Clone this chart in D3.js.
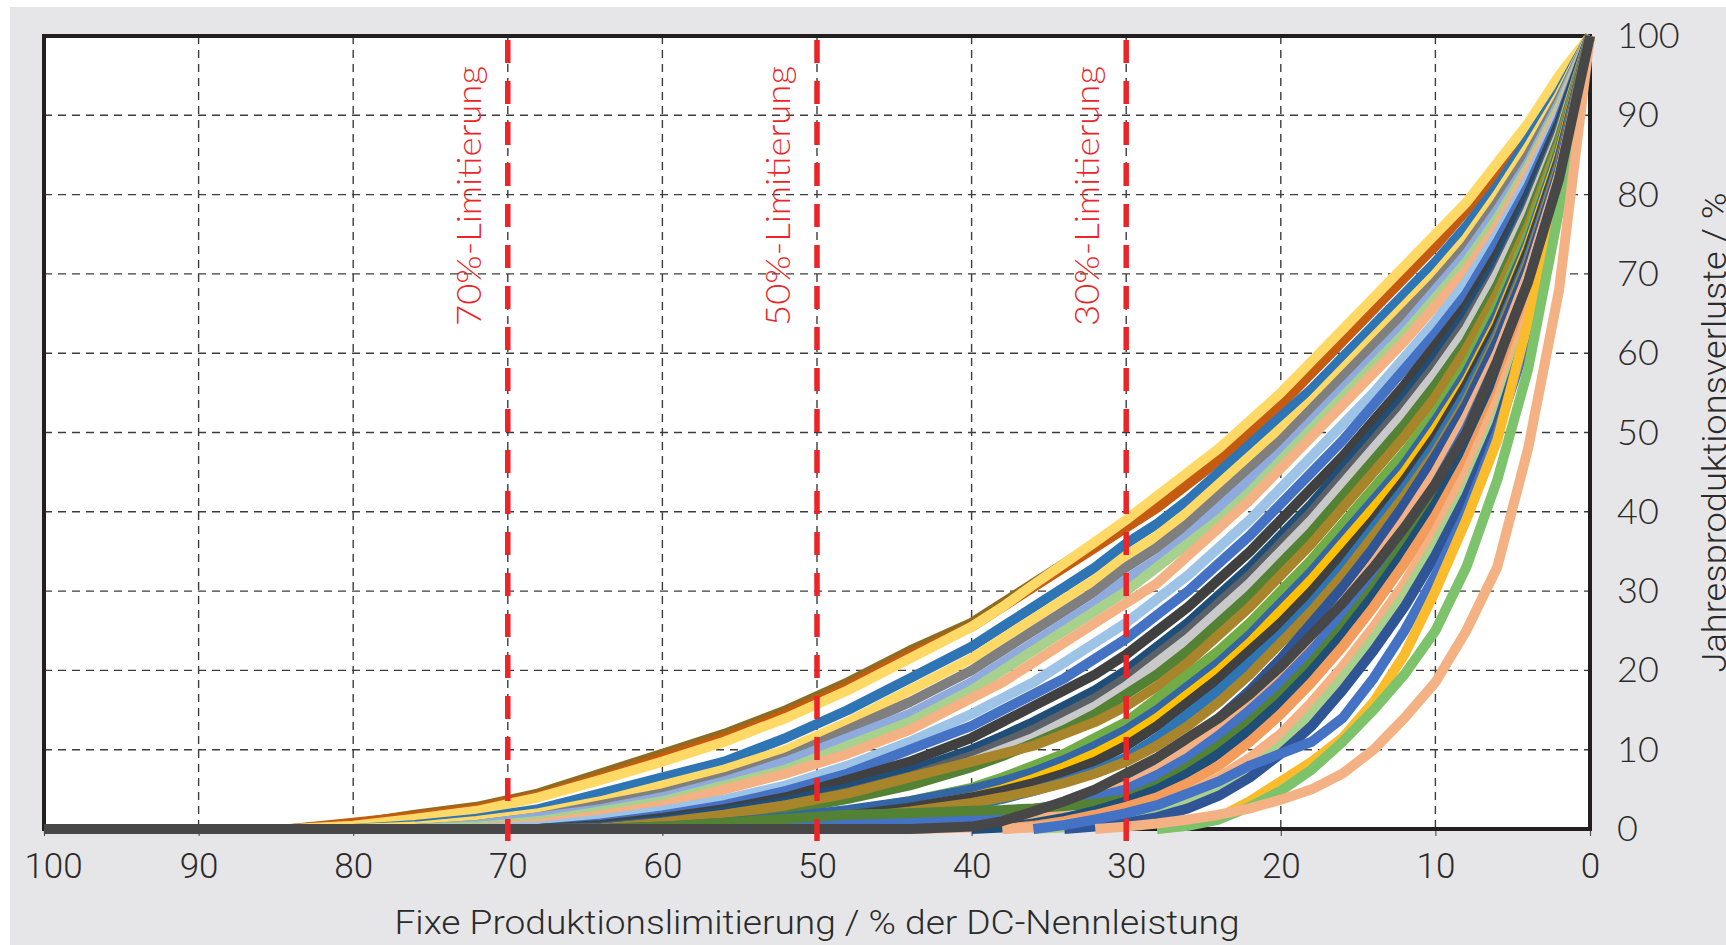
<!DOCTYPE html>
<html><head><meta charset="utf-8">
<script src="https://cdn.jsdelivr.net/npm/d3@7"></script>
<style>
html,body{margin:0;padding:0;background:#fff;}
svg{display:block;}
</style></head><body>
<svg id="chart" width="1726" height="945"></svg>
<script>
// ---- data ----
const xValues = [0,2,4,6,8,10,12,14,16,18,20,22,24,26,28,30,32,34,36,38,40,44,48,52,56,60,64,68,72,76,80,84,88,92,96,100];
const xTicks = [100,90,80,70,60,50,40,30,20,10,0];
const yTicks = [0,10,20,30,40,50,60,70,80,90,100];
const limitValues = [70,50,30];
const limitLabels = ["70%-Limitierung","50%-Limitierung","30%-Limitierung"];
const xTitle = "Fixe Produktionslimitierung / % der DC-Nennleistung";
const yTitle = "Jahresproduktionsverluste / %";

const s01 = [100,94,88.5,83,78.5,74,70,66,62,58,54,50.5,47,44,41,38.5,36,33.5,31,28.5,26,22.5,18.5,15,12,9.5,7,4.5,2.8,1.8,0.6,0];
const s02 = [100,93.5,88,82.5,78,73.5,69.5,65.5,61.5,57.5,53.5,50,46.5,43.5,40.5,38,35.5,33,30.5,28,25.5,22,18,14.5,11.5,9,6.5,4.2,2.6,1.6,0.8,0];
const s03 = [100,95,89,84,79,75,71,67,63,59,55,51.5,48,45,42,39,36.2,33.5,30.8,28,25.5,21.5,17.5,14,11,8.5,6.2,4,2.3,1.3,0.4,0];
const s04 = [100,93,87,81,76,71.5,67.5,63.5,59.5,55.5,52,48.5,45,41.5,38.5,36,33,30.5,28,25.5,23,19,15,11.5,8.5,6.5,4.5,2.5,1.3,0.5,0];
const s05 = [100,92.5,86,80,74.5,70,66,62,58,54,50.5,47,43.5,40,37,34.5,31.5,29,26.5,24,21.5,17.5,13.5,10,7.5,5.5,3.5,2,1,0.3,0];
const s06 = [100,92,85,79,73.5,69,65,61,57,53,49,45.5,42,38.5,35.5,33,30,27.5,25,22.5,20,16,12.5,9,6.5,4.5,3,1.5,0.5,0];
const s07 = [100,91.5,84,78,72.5,68,63.5,59.5,55.5,51.5,47.5,44,40.5,37,34,31.5,28.5,26,23.5,21,18.5,14.5,11.5,8.5,6,4,2.5,1.5,0.5,0];
const s08 = [100,91,83.5,77,71.5,67,62.5,58.5,54.5,50.5,46.5,42.5,39,36,33,30,27.5,25,22.5,20,17.5,13.5,10.5,7.5,5.5,3.5,2.2,1,0.3,0];
const s09 = [100,90.5,83,76,70.5,66,61.5,57.5,53.5,49.5,45.5,41.5,38,34.5,31,28.5,26,23.5,21,18.5,16.5,12.5,9.5,7,5,3,1.7,0.7,0];
const s10 = [100,90,82,75,69,64,59.5,55,51,47,43,39,35.5,32,29,26,23.5,21,18.5,16.5,14.5,11,8,5.5,3.7,2.3,1.2,0.3,0];
const s11 = [100,89.5,81,74,67.5,62.5,58,53.5,49,45,41,37,33.5,30,27,24,21.5,19,17,15,13,10,7,4.8,3,1.7,0.7,0];
const s12 = [100,89,80,72.5,66,61,56,51.5,47,43,39,35,31.5,28,25,22,19.5,17.5,15.5,13.5,11.5,8.5,6.2,4,2.5,1.4,0.5,0];
const s13 = [100,88.5,79.5,71.5,65,59.5,54.5,50,45.5,41,37,33,29.5,26,23,20,17.5,15.5,13.5,11.7,10,7.3,5.2,3.5,2.2,1.1,0.3,0];
const s14 = [100,88,78.5,70.5,64,58.5,53.5,49,44.5,40,36,32,28.5,25,22,19,16.5,14.5,12.5,10.8,9.2,6.6,4.6,3,1.8,0.9,0.2,0];
const s15 = [100,87.5,78,70,63,57.5,52.5,48,43.5,39,35,31,27.5,24,21,18,15.5,13.5,11.5,10,8.5,6,4.2,2.7,1.5,0.7,0];
const s16 = [100,87,77,68.5,61.5,56,51,46.5,42,37.5,33.5,29.5,26,22.5,19.5,17,14.5,12.5,10.8,9.2,7.8,5.5,3.8,2.4,1.3,0.5,0];
const s17 = [100,86.5,76,67.5,60.5,54.5,49.5,45,40.5,36,32,28,24.5,21,18,15.5,13.5,12,10.5,9.5,8.5,6.5,4.5,3,1.8,0.8,0];
const s18 = [100,86,75,66,58.5,52.5,47.5,43,38.5,34,30,26,22.5,19.5,16.5,13.5,11.5,9.5,8,6.5,5.2,3.5,2.2,1.2,0.5,0];
const s19 = [100,85.5,74,65,57.5,51.5,46,41.5,37,32.5,28.5,24.5,21,18,15,12.5,10.5,8.7,7.2,6,5,3.5,2.4,1.5,0.8,0.3,0];
const s20 = [100,85,73.5,64,56.5,50.5,45,40.5,36,31.5,27.5,23.5,20,17,14,11.5,9.5,7.8,6.3,5,4,2.6,1.6,0.8,0.3,0];
const s33 = [100,84.5,73,63.5,56,49.5,44,39,34.5,30,26,22.5,19,16,13,10.5,8.5,7,5.8,4.8,4,2.7,1.7,1,0.4,0];
const s34 = [100,84,72,62.5,55,48.5,43,38,33,28.5,24.5,21,17.5,14.5,11.5,9,7.3,6,4.8,3.8,3,1.9,1.1,0.5,0];
const s35 = [100,83.5,71.5,62,54,47.5,42,37,32,27.5,23.5,19.5,16,13,10.5,8.5,7,5.8,4.8,4,3.3,2.2,1.3,0.6,0];
const s22 = [100,83,71,61.5,53.5,47,41,35.5,30.5,26,21.5,17.5,14,11,8.5,6.2,4.5,3,1.8,0.9,0.3,0];
const s23 = [100,82.5,70,60,52,45,39,33.5,28.5,24,20,16.5,13,10,7.5,5.5,4,2.7,1.6,0.8,0.2,0];
const s24 = [100,82,69,59,50.5,43.5,37.5,32,27,22.5,18.5,15,11.8,9,6.8,5,4,3.2,2.5,1.9,1.5,1,0.6,0.3,0];
const s25 = [100,81.5,68,57.5,49,42,36,30.5,25.5,21,17,13.5,10.5,7.8,5.5,3.8,3.2,2.9,2.6,2.4,2.3,2,1.8,1.3,0.8,0.3,0];
const s26 = [100,81,67,56.5,48,41,35,29.5,24.5,20,16,12.5,9.5,7,5,3.5,2.3,1.4,0.7,0.2,0];
const s27 = [100,80.5,66,55,46.5,39.5,33.5,28,23,18.5,14.5,11,8,5.8,4,2.8,1.8,1,0.4,0];
const s28 = [100,80,65,54,45,37.5,31,25.5,20.5,16,12,9,6.5,4.5,3,2,1.2,0.6,0.2,0];
const s36 = [100,79.5,63.5,52,43,36,29.5,24,19,14.5,10.5,7.5,5,3.3,2,1.2,0.6,0.2,0];
const s37 = [100,79,63,51,42,34.5,28,22.5,17.5,13,9.5,6.5,4.2,2.6,1.5,0.8,0.3,0];
const s29 = [100,79,62,50,40,32,25,19,14,11,9.5,8,6,4.5,3,2,1.2,0.5,0];
const s30 = [100,81,64,49,39,30,22,16,11.5,8.5,6,3.5,1.5,0.5,0];
const s31 = [100,78,58,44,33,25,19.5,15,11,7.5,4.8,2.8,1.2,0.4,0];
const s32 = [100,68,48,33,25,18.5,14,10,7,5,3.7,2.6,1.8,1.2,0.7,0.3,0];
const s21 = [100,82,69,59,50,43.5,38,33,28.5,24.5,20.5,17,14,11.5,9,7,5,3.5,2.2,1,0.3,0,0,0,0,0,0,0,0,0,0,0,0,0,0,0];

const seriesValues = [s01,s02,s03,s04,s05,s06,s07,s08,s09,s10,s11,s12,s13,s14,s15,s16,
                      s17,s18,s19,s20,s33,s34,s35,s22,s23,s24,s25,s26,s27,s28,s36,s37,
                      s29,s30,s31,s32,s21];
const seriesColors = ["#8c6d20","#c55a11","#ffd966","#2e75b6","#ffd966","#7f7f7f","#8faadc","#a9d18e",
                      "#f4b183","#9dc3e6","#4472c4","#404040","#1f4e79","#5b6167","#c9c9c9","#548235",
                      "#a8842a","#70ad47","#3465a4","#ffc000","#404040","#2e75b6","#a8842a","#2f5597",
                      "#f4b183","#4472c4","#548235","#1f4e79","#f39c5b","#f4b183","#a9d18e","#2f5597",
                      "#4472c4","#fbbc2c","#7dc36b","#f4b183","#474747"];

// ---- drawing ----
const W = 1726, H = 945;
const svg = d3.select("#chart");
svg.append("rect").attr("x",10).attr("y",7).attr("width",W-10).attr("height",H-7).attr("fill","#e6e6e8");

const x = d3.scaleLinear().domain([100,0]).range([44,1590]);
const y = d3.scaleLinear().domain([0,100]).range([829,36]);

svg.append("rect").attr("x",x(100)).attr("y",y(100))
   .attr("width",x(0)-x(100)).attr("height",y(0)-y(100)).attr("fill","#ffffff");

// grid
const grid = svg.append("g");
grid.selectAll("line.v").data(xTicks.filter(v=>v>0&&v<100)).join("line")
  .attr("x1",d=>x(d)).attr("x2",d=>x(d)).attr("y1",y(100)).attr("y2",y(0))
  .attr("stroke","#3c3c3c").attr("stroke-width",1.4).attr("stroke-dasharray","8,6");
grid.selectAll("line.h").data(yTicks.filter(v=>v>0&&v<100)).join("line")
  .attr("x1",x(100)).attr("x2",x(0)).attr("y1",d=>y(d)).attr("y2",d=>y(d))
  .attr("stroke","#3c3c3c").attr("stroke-width",1.4).attr("stroke-dasharray","8,6");

// x axis (ticks + labels)
const xAxis = d3.axisBottom(x).tickValues(xTicks).tickSize(7).tickPadding(17).tickFormat(d3.format("d"));
const gx = svg.append("g").attr("transform",`translate(0,${y(0)})`).call(xAxis);
gx.select(".domain").remove();
gx.selectAll(".tick line").attr("stroke","#555").attr("stroke-width",1.2);
gx.selectAll(".tick text").attr("fill","#2a2a2a")
  .style("font-family","Roboto, 'Liberation Sans', sans-serif").style("font-weight","300").style("font-size","35px")
  .attr("dx",d=>d===100?9:0);

// frame
svg.append("rect").attr("x",x(100)).attr("y",y(100))
   .attr("width",x(0)-x(100)).attr("height",y(0)-y(100))
   .attr("fill","none").attr("stroke","#231f20").attr("stroke-width",4);

// series
const line = d3.line().x((d,i)=>x(xValues[i])).y(d=>y(d));
svg.append("g").selectAll("path").data(seriesValues).join("path")
  .attr("d",d=>line(d)).attr("fill","none")
  .attr("stroke",(d,i)=>seriesColors[i]).attr("stroke-width",10)
  .attr("stroke-linejoin","round").attr("stroke-linecap","butt");

// limit lines
svg.append("g").selectAll("line").data(limitValues).join("line")
  .attr("x1",d=>x(d)).attr("x2",d=>x(d)).attr("y1",40).attr("y2",841)
  .attr("stroke","#ec2327").attr("stroke-width",5.5).attr("stroke-dasharray","23,18");
svg.append("g").selectAll("text").data(limitValues).join("text")
  .attr("transform",d=>`translate(${x(d)-27},66) rotate(-90)`)
  .attr("text-anchor","end").attr("fill","#ec2327")
  .style("font-family","Lato, 'Open Sans', sans-serif").style("font-weight","300").style("font-size","33px")
  .attr("textLength",260).attr("lengthAdjust","spacingAndGlyphs")
  .text((d,i)=>limitLabels[i]);

// y axis labels (right)
const yAxis = d3.axisRight(y).tickValues(yTicks).tickSize(0).tickPadding(27).tickFormat(d3.format("d"));
const gy = svg.append("g").attr("transform",`translate(${x(0)},0)`).call(yAxis);
gy.select(".domain").remove();
gy.selectAll(".tick text").attr("fill","#2a2a2a")
  .style("font-family","Lato, 'Open Sans', sans-serif").style("font-weight","300").style("font-size","36px");

// titles
svg.append("text").attr("x",(x(100)+x(0))/2).attr("y",934).attr("text-anchor","middle")
  .attr("fill","#2a2a2a").style("font-family","Roboto, 'Liberation Sans', sans-serif")
  .style("font-weight","300").style("font-size","34px")
  .attr("textLength",845).attr("lengthAdjust","spacingAndGlyphs").text(xTitle);
svg.append("text").attr("transform",`translate(1726,${(y(0)+y(100))/2}) rotate(-90)`)
  .attr("text-anchor","middle").attr("fill","#2a2a2a")
  .style("font-family","Roboto, 'Liberation Sans', sans-serif").style("font-weight","300").style("font-size","34px")
  .attr("textLength",480).attr("lengthAdjust","spacingAndGlyphs").text(yTitle);
</script>
</body></html>
